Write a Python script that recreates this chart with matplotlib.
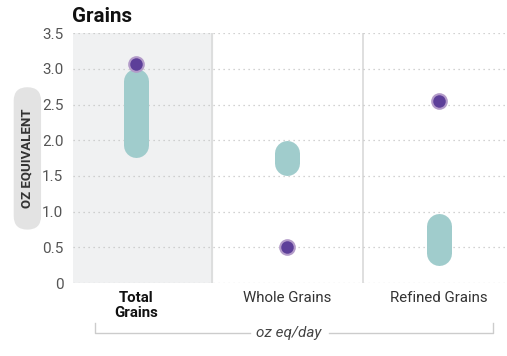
import matplotlib.pyplot as plt
from matplotlib.patches import FancyBboxPatch
from matplotlib.lines import Line2D

plt.rcParams['font.family'] = ['Roboto', 'DejaVu Sans']

categories = ['Total\nGrains', 'Whole Grains', 'Refined Grains']
range_low = [1.93, 1.68, 0.42]
range_high = [2.83, 1.82, 0.80]
intake = [3.07, 0.5, 2.55]
y_ticks = [0, 0.5, 1.0, 1.5, 2.0, 2.5, 3.0, 3.5]
y_tick_labels = ['0', '0.5', '1.0', '1.5', '2.0', '2.5', '3.0', '3.5']

fig = plt.figure(figsize=(5.07, 3.56), dpi=100)
ax = fig.add_axes([0.144, 0.205, 0.852, 0.702])

x = list(range(len(categories)))
ax.set_xlim(-0.42, 2.44)
ax.set_ylim(0, 3.5)

# shaded first column and dividers
ax.axvspan(-0.42, 0.5, color='#f0f1f2', zorder=0)
for d in [0.5, 1.5]:
    ax.axvline(d, color='#dcdcdc', lw=1.3, zorder=1)

# dotted grid
for t in y_ticks:
    ax.axhline(t, color='#c4c4c4', lw=0.9, ls=(0, (1, 3)), zorder=1)

# recommended ranges
for xi, lo, hi in zip(x, range_low, range_high):
    ax.plot([xi, xi], [lo, hi], color='#a0cccc', lw=18,
            solid_capstyle='round', zorder=2)

# intake dots
ax.plot(x, intake, 'o', ms=10.5, color='#5d3f99', mec='#b39bc9', mew=1.5, zorder=3)

for s in ax.spines.values():
    s.set_visible(False)
ax.tick_params(length=0)
ax.set_yticks(y_ticks)
ax.set_yticklabels(y_tick_labels, fontsize=11, color='#555555', fontweight='normal')
ax.set_xticks(x)
ax.set_xticklabels(categories, fontsize=10.8, color='#333333', linespacing=1.1)
ax.get_xticklabels()[0].set_fontweight('bold')
ax.get_xticklabels()[0].set_color('#111111')
ax.tick_params(axis='x', pad=6)
ax.tick_params(axis='y', pad=7)

fig.text(0.142, 0.928, 'Grains', fontsize=14.8, fontweight='bold', color='#111111',
         va='bottom')

# y label pill
pill = FancyBboxPatch((0.027, 0.355), 0.054, 0.40, transform=fig.transFigure,
                      boxstyle='round,pad=0,rounding_size=0.027',
                      fc='#e3e3e3', ec='none', mutation_aspect=1.42)
fig.patches.append(pill)
fig.text(0.053, 0.555, 'OZ EQUIVALENT', rotation=90, fontsize=9.5,
         fontweight='bold', color='#333333', ha='center', va='center')

# bracket with unit label
yb = 1 - 333 / 356
yt = 1 - 323 / 356
for xs in [[95 / 507, 95 / 507, 250 / 507], [329 / 507, 493 / 507, 493 / 507]]:
    ys = [yt, yb, yb] if xs[0] < 0.3 else [yb, yb, yt]
    fig.add_artist(Line2D(xs, ys, color='#cccccc', lw=1))
fig.text(289 / 507, yb, 'oz eq/day', fontsize=11, style='italic',
         color='#444444', ha='center', va='center')

plt.savefig('out.png', dpi=100)
